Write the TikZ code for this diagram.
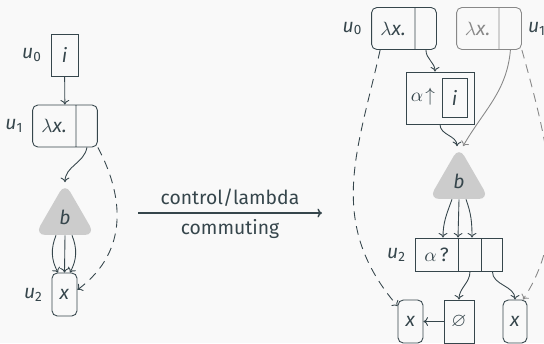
\documentclass[tikz,border=0pt]{standalone}
\usepackage{amssymb}
\usepackage{fontspec}
\setmainfont{Fira Sans}
\usetikzlibrary{shapes.multipart, shapes.geometric, arrows.meta}

\definecolor{ink}{HTML}{36464C}
\definecolor{paper}{HTML}{F9F9F9}
\definecolor{blobgray}{HTML}{CCCCCC}
\definecolor{faded}{HTML}{888888}

\newcommand{\uvar}[1]{\textit{u}\textsubscript{#1}}
\newcommand{\lamx}{$\lambda$\textit{x.}}

\tikzset{
    >={To[length=2.6pt, width=5pt]},
    cell/.style={draw=ink, text=ink, inner sep=0pt, line width=0.5pt},
    roundcell/.style={cell, rounded corners=3pt},
    lam/.style={roundcell, rectangle split, rectangle split horizontal,
        rectangle split parts=2, minimum height=0.84cm},
    blob/.style={regular polygon, regular polygon sides=3, minimum size=1.39cm,
        fill=blobgray, rounded corners=6pt, text=ink, inner sep=0pt},
    link/.style={->, draw=ink, line width=0.5pt},
    jump/.style={link, dash pattern=on 5pt off 3.5pt},
    tag/.style={text=ink, label distance=1.5pt},
}

\begin{document}
\begin{tikzpicture}[x=0.02cm, y=0.02cm, font=\fontsize{11pt}{13pt}\selectfont]
    \fill[paper] (0,0) rectangle (544,-343);
    \useasboundingbox (0,0) rectangle (544,-343);

    % Before: i under a lambda
    \node[cell, minimum width=0.54cm, minimum height=0.84cm,
        label={[tag]left:\uvar{0}}] (iL) at (64.5,-55) {\textit{i}};
    \node[lam, label={[tag]left:\uvar{1}}] (lamL) at (65,-126)
        {\makebox[0.86cm]{\lamx}\nodepart{two}\makebox[0.42cm]{}};
    \node[blob] (bL) at (65,-217.6) {\textit{b}};
    \node[roundcell, minimum width=0.5cm, minimum height=0.86cm,
        label={[tag]left:\uvar{2}}] (xL) at (64.5,-294.5) {\textit{x}};

    \draw[link] (iL) -- (lamL);
    \draw[link] (lamL.two south) to[out=-100, in=90] (bL.corner 1);
    \draw[jump] (lamL.south east) .. controls +(24,-45) and +(54,40) .. (xL.20);
    \draw[link] ([xshift=-0.18cm]bL.south) to[bend right=25] ([xshift=-0.13cm]xL.north);
    \draw[link] (bL.south) -- (xL.north);
    \draw[link] ([xshift=0.14cm]bL.south) to[bend left=25] ([xshift=0.11cm]xL.north);

    % The rewrite step
    \coordinate (stepL) at (138,-213);
    \coordinate (stepR) at (322,-213);
    \draw[link, line width=0.8pt] (stepL) -- node[above, text=ink] {control/lambda}
        node[below, text=ink] {commuting} (stepR);

    % After: the control node moved inside
    \node[lam, label={[tag]left:\uvar{0}}] (lamR) at (404,-28.5)
        {\makebox[0.86cm]{\lamx}\nodepart{two}\makebox[0.42cm]{}};
    \node[lam, draw=faded, text=faded, label={[tag, text=ink, label distance=0pt]right:\uvar{1}}] (lamG) at (489,-28.5)
        {\makebox[0.84cm]{\lamx}\nodepart{two}\makebox[0.44cm]{}};
    \node[cell, minimum width=1.36cm, minimum height=1.04cm] (up) at (440,-98) {};
    \node[text=ink] (uparr) at (423,-97) {$\alpha\!\uparrow$};
    \node[cell, minimum width=0.5cm, minimum height=0.78cm] (iR) at (454.5,-97.5) {\textit{i}};
    \node[blob] (bR) at (459,-181.6) {\textit{b}};
    \node[cell, rectangle split, rectangle split horizontal, rectangle split parts=3,
        minimum height=0.66cm, label={[tag]left:\uvar{2}}] (ask) at (459,-254.5)
        {\makebox[0.86cm]{$\alpha$\,?}\nodepart{two}\makebox[0.44cm]{}\nodepart{three}\makebox[0.42cm]{}};
    \node[roundcell, minimum width=0.5cm, minimum height=0.86cm] (xBL) at (410.5,-321.5) {\textit{x}};
    \node[cell, minimum width=0.6cm, minimum height=0.86cm] (none) at (459,-321.5) {$\varnothing$};
    \node[roundcell, minimum width=0.48cm, minimum height=0.86cm] (xBR) at (515,-321.5) {\textit{x}};

    \draw[link] (lamR.two south) to[out=-90, in=90] ([xshift=-0.1cm]up.north);
    \draw[link] (up.south) to[out=-90, in=90] ([xshift=-0.04cm]bR.corner 1);
    \draw[link, draw=faded] (lamG.two south) to[out=-95, in=60] ([xshift=0.08cm]bR.corner 1);
    \draw[jump] ([xshift=0.18cm]lamR.south west) .. controls +(-22,-100) and +(-72,84) .. (xBL.130);
    \draw[jump, draw=faded] (lamG.south east) .. controls +(28,-100) and +(46,70) .. (xBR.70);
    \draw[link] ([xshift=-0.14cm]bR.south) to[out=-110, in=90] ([xshift=-0.32cm]ask.north);
    \draw[link] (bR.south) -- ([xshift=-0.02cm]ask.north);
    \draw[link] ([xshift=0.14cm]bR.south) to[out=-70, in=90] ([xshift=0.26cm]ask.north);
    \draw[link] (ask.two south) to[out=-90, in=90] (none.north);
    \draw[link] (ask.three south) to[out=-90, in=90] (xBR.north);
    \draw[link] (none) -- (xBL);
\end{tikzpicture}
\end{document}
